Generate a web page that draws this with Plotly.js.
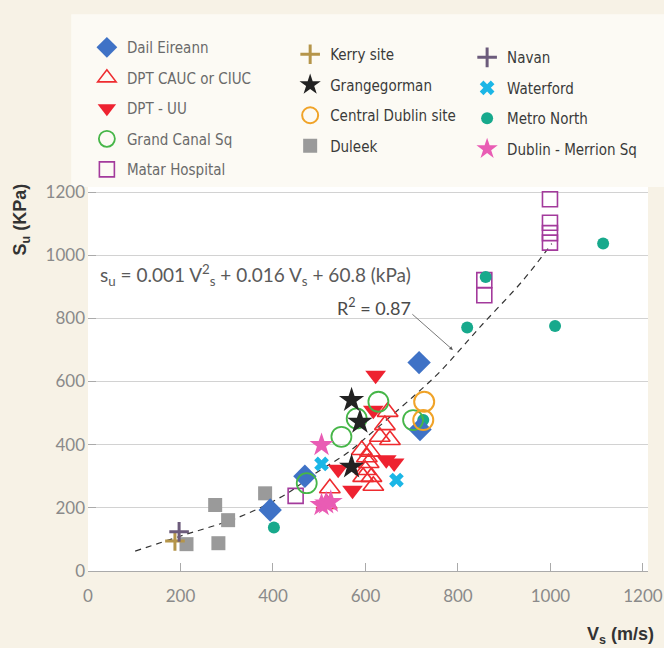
<!DOCTYPE html>
<html>
<head>
<meta charset="utf-8">
<script src="https://cdn.plot.ly/plotly-3.0.1.min.js"></script>
<style>html,body{margin:0;padding:0;background:#f7f2e6;}#chart{width:664px;height:648px;}</style>
</head>
<body>
<div id="chart"></div>
<script>
// ---- data ----
const dailX = [394, 469, 718, 716];
const dailY = [193, 300, 448, 660];
const caucX = [648, 642, 631, 653, 610, 592, 603, 607, 595, 613, 617, 523, 516, 600];
const caucY = [504, 462, 425, 415, 378, 383, 360, 342, 298, 298, 270, 262, 212, 320];
const uuX = [622, 617, 541, 572, 645, 662];
const uuY = [620, 509, 322, 256, 352, 342];
const canalX = [473, 548, 581, 628, 703];
const canalY = [278, 425, 483, 536, 478];
const matarX = [449, 857, 857, 999, 999, 999, 999];
const matarY = [238, 873, 921, 1040, 1070, 1103, 1177];
const kerryX = [188];
const kerryY = [95];
const grangeX = [570, 588, 570];
const grangeY = [541, 472, 330];
const centralX = [727, 725];
const centralY = [536, 478];
const duleekX = [213, 275, 282, 303, 383];
const duleekY = [85, 209, 88, 161, 246];
const navanX = [197];
const navanY = [124];
const waterX = [505, 667];
const waterY = [339, 288];
const metroX = [402, 725, 820, 860, 1010, 1114];
const metroY = [138, 478, 771, 931, 776, 1037];
const merrionX = [505, 505, 515, 525];
const merrionY = [399, 209, 214, 219];
// fitted curve
const fitX = [102, 199, 329, 430, 487, 559, 603, 703, 761, 848, 941, 1003];
const fitY = [63, 110, 172, 245, 305, 372, 425, 552, 631, 773, 921, 1037];
const xTicks = [0, 200, 400, 600, 800, 1000, 1200];
const yTicks = [0, 200, 400, 600, 800, 1000, 1200];

function tr(name, x, y, marker, legend, rank) {
  return {type: 'scatter', mode: 'markers', name: name, x: x, y: y, marker: marker,
          legend: legend, legendgroup: name, legendrank: rank, hoverinfo: 'x+y+name'};
}

const traces = [
  {type: 'scatter', mode: 'lines', x: fitX, y: fitY, showlegend: false,
   line: {color: '#333', width: 1.2, dash: '6px,5px', shape: 'spline'}, hoverinfo: 'skip'},
  tr('Duleek', duleekX, duleekY, {symbol: 'square', size: 14, color: '#9a9a9a'}, 'legend2', 4),
  tr('Matar Hospital', matarX, matarY, {symbol: 'square-open', size: 15, color: '#a33a9c', line: {width: 1.6}}, 'legend', 5),
  tr('Metro North', metroX, metroY, {symbol: 'circle', size: 12, color: '#17a98c'}, 'legend3', 3),
  tr('DPT CAUC or CIUC', caucX, caucY, {symbol: 'triangle-up-open', size: 18, color: '#ee2b2f', line: {width: 1.6}}, 'legend', 2),
  tr('DPT - UU', uuX, uuY, {symbol: 'triangle-down', size: 18, color: '#ee2230'}, 'legend', 3),
  tr('Dail Eireann', dailX, dailY, {symbol: 'diamond', size: 18, color: '#3f72c6'}, 'legend', 1),
  tr('Grand Canal Sq', canalX, canalY, {symbol: 'circle-open', size: 20, color: '#46b648', line: {width: 1.8}}, 'legend', 4),
  tr('Central Dublin site', centralX, centralY, {symbol: 'circle-open', size: 20, color: '#f0a328', line: {width: 2}}, 'legend2', 3),
  tr('Grangegorman', grangeX, grangeY, {symbol: 'star', size: 19, color: '#222222'}, 'legend2', 2),
  tr('Kerry site', kerryX, kerryY, {symbol: 'cross-thin', size: 14, color: '#b5954a', line: {width: 3, color: '#b5954a'}}, 'legend2', 1),
  tr('Navan', navanX, navanY, {symbol: 'cross-thin', size: 14, color: '#6c5b7b', line: {width: 3, color: '#6c5b7b'}}, 'legend3', 1),
  tr('Waterford', waterX, waterY, {symbol: 'x', size: 13, color: '#1bb6e6'}, 'legend3', 2),
  tr('Dublin - Merrion Sq', merrionX, merrionY, {symbol: 'star', size: 18, color: '#e95cb4'}, 'legend3', 4)
];

const legFont = 'Liberation Sans Narrow, DejaVu Sans Condensed, Arial Narrow, sans-serif';
const tickFont = {family: 'Lato, Liberation Sans, sans-serif', size: 17, color: '#8a8a8a'};

function leg(x, y, color) {
  return {x: x, y: y, xanchor: 'left', yanchor: 'top', bgcolor: 'rgba(0,0,0,0)',
          traceorder: 'grouped', tracegroupgap: 8,
          font: {family: legFont, size: 15, color: color}};
}

const layout = {
  width: 664, height: 648,
  margin: {l: 88, r: 16, t: 187, b: 77},
  paper_bgcolor: '#f7f2e6',
  plot_bgcolor: '#ffffff',
  showlegend: true,
  legend: leg(-0.002, 1.406, '#6a6a6a'),
  legend2: leg(0.361, 1.388, '#3a3a3a'),
  legend3: leg(0.677, 1.380, '#3a3a3a'),
  xaxis: {range: [0, 1211], tickvals: xTicks, ticks: 'inside', ticklen: 8, tickcolor: '#aaaaaa',
          showline: true, linecolor: '#aaaaaa', linewidth: 1, showgrid: false, zeroline: false,
          tickfont: tickFont, ticklabelstandoff: 10},
  yaxis: {range: [0, 1216], tickvals: yTicks, ticks: 'inside', ticklen: 8, tickcolor: '#aaaaaa',
          showline: false, showgrid: true, gridcolor: '#d2d2d2', gridwidth: 1, zeroline: false,
          tickfont: tickFont, ticklabelstandoff: 2},
  shapes: [
    {type: 'rect', xref: 'paper', yref: 'paper', x0: -0.03, x1: 1.03, y0: 1.0, y1: 1.45,
     fillcolor: '#fcfaf4', line: {width: 0}, layer: 'below'}
  ],
  annotations: [
    {xref: 'x', yref: 'y', x: 22, y: 937, xanchor: 'left', yanchor: 'middle', showarrow: false,
     text: 's<sub>u</sub> = 0.001 V<sup>2</sup><sub>s</sub> + 0.016 V<sub>s</sub> + 60.8 (kPa)',
     font: {family: 'Lato, Liberation Sans, sans-serif', size: 19, color: '#5a5a5a'}},
    {xref: 'x', yref: 'y', x: 703, y: 836, xanchor: 'right', yanchor: 'middle', showarrow: false,
     text: 'R<sup>2</sup> = 0.87',
     font: {family: 'Lato, Liberation Sans, sans-serif', size: 18, color: '#4a4a4a'}},
    {xref: 'x', yref: 'y', x: 789, y: 700, ax: -42, ay: -37, showarrow: true, text: '',
     arrowhead: 2, arrowsize: 0.9, arrowwidth: 0.8, arrowcolor: '#555'},
    {xref: 'paper', yref: 'paper', x: -0.118, y: 0.915, textangle: -90, showarrow: false,
     xanchor: 'center', yanchor: 'middle',
     text: '<b>S<sub>u</sub> (KPa)</b>',
     font: {family: 'Liberation Sans, Arial, sans-serif', size: 18, color: '#333'}},
    {xref: 'paper', yref: 'paper', x: 0.95, y: -0.167, showarrow: false,
     xanchor: 'center', yanchor: 'middle',
     text: '<b>V<sub>s</sub> (m/s)</b>',
     font: {family: 'Liberation Sans, Arial, sans-serif', size: 18, color: '#333'}}
  ]
};

Plotly.newPlot('chart', traces, layout, {displayModeBar: false, staticPlot: true});
</script>
</body>
</html>
